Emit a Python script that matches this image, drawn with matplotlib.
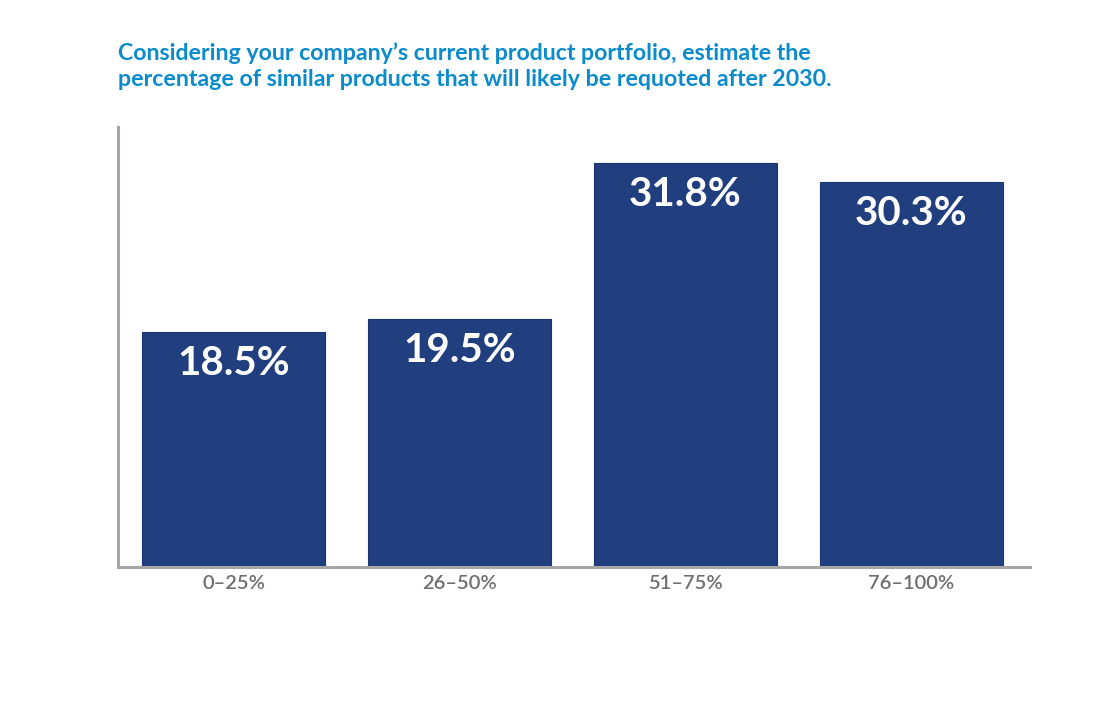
import matplotlib
matplotlib.use('Agg')
import matplotlib.pyplot as plt
import numpy as np

categories = ['0–25%', '26–50%', '51–75%', '76–100%']
values = [18.5, 19.5, 31.8, 30.3]
title = ("Considering your company’s current product portfolio, estimate the\n"
         "percentage of similar products that will likely be requoted after 2030.")

barColor = '#213f7e'
titleColor = '#0a8bcb'
greyText = '#6e6e6e'
spineColor = '#a6a6a6'

plt.rcParams['font.family'] = ['Lato', 'DejaVu Sans']

fig = plt.figure(figsize=(11, 7.04), dpi=100)
ax = fig.add_axes([0.1073, 0.1946, 0.829, 0.625])

x_pos = np.arange(len(categories))
bars = ax.bar(x_pos, values, 0.81, color=barColor, edgecolor='#1a3470', linewidth=0.8)

for rect, val in zip(bars, values):
    ax.annotate('%.1f%%' % val, xy=(rect.get_x() + rect.get_width()/2., rect.get_height()),
                xytext=(0, -23), textcoords='offset points', ha='center', va='center',
                color='white', fontsize=29, fontweight='bold')

ax.set_xlim(-0.511, 3.524)
ax.set_ylim(0, 34.6)
ax.set_xticks(x_pos)
ax.set_xticklabels(categories, fontsize=14.5, color=greyText, fontweight='semibold')
ax.tick_params(axis='x', length=0, pad=6)
ax.set_yticks([])

for side in ['top', 'right']:
    ax.spines[side].set_visible(False)
for side in ['left', 'bottom']:
    ax.spines[side].set_color(spineColor)
    ax.spines[side].set_linewidth(2.2)

fig.text(118/1100., 1 - 42/704., title, ha='left', va='top', fontsize=16.7,
         fontweight='bold', color=titleColor, linespacing=1.32)

fig.savefig('out.png', dpi=100)
